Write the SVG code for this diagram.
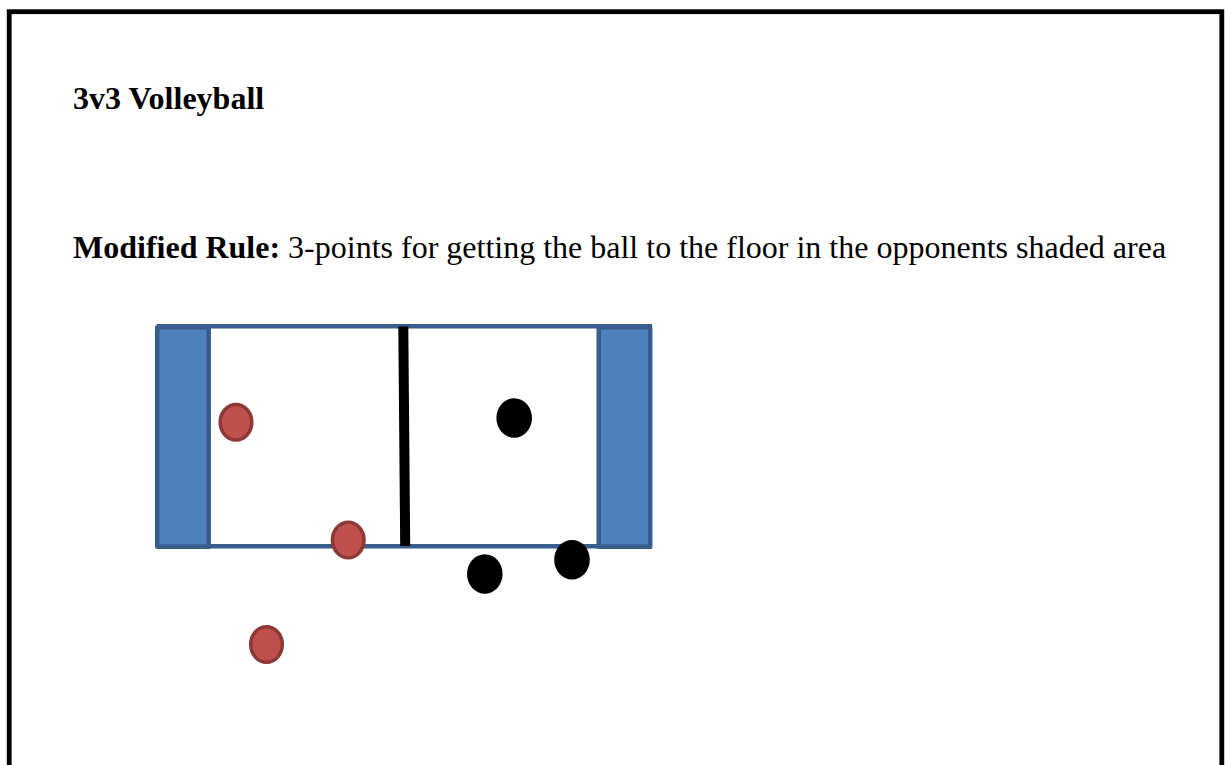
<svg xmlns="http://www.w3.org/2000/svg" width="1225" height="765" viewBox="0 0 1225 765">
<style>
.title{font-family:"Liberation Serif","Times New Roman",serif;font-size:32px;fill:#000}
.b{font-weight:bold}
.zone{fill:#4F81BD;stroke:#385D8A;stroke-width:4.5;stroke-linejoin:round}
.line{stroke:#385D8A;stroke-width:4.5;fill:none}
.red{fill:#C0504D;stroke:#8C3836;stroke-width:3.5}
.blk{fill:#000}
</style>
<rect x="0" y="0" width="1225" height="765" fill="#fff"/>
<rect x="9.2" y="11.7" width="1212.6" height="800" fill="none" stroke="#000" stroke-width="4.8"/>
<text class="title b" x="73" y="108.5">3v3 Volleyball</text>
<text class="title" x="73" y="257.5"><tspan class="b">Modified Rule:</tspan> 3-points for getting the ball to the floor in the opponents shaded area</text>
<g id="court">
<line class="line" x1="157" y1="326.2" x2="652" y2="326.2"/>
<line class="line" x1="157" y1="546.2" x2="652" y2="546.2"/>
</g>
<g id="zone-left"><rect class="zone" x="157.2" y="327.2" width="51.5" height="219.5"/></g>
<g id="zone-right"><rect class="zone" x="598.7" y="327.2" width="51.5" height="219.5"/></g>
<g id="net"><line x1="403.3" y1="326.5" x2="405.2" y2="546" stroke="#000" stroke-width="10"/></g>
<g id="red1"><ellipse class="red" cx="236" cy="422.3" rx="15.8" ry="17.8"/></g>
<g id="red2"><ellipse class="red" cx="348.2" cy="540" rx="15.8" ry="17.8"/></g>
<g id="red3"><ellipse class="red" cx="266.5" cy="644.5" rx="15.8" ry="17.8"/></g>
<g id="black1"><ellipse class="blk" cx="514.2" cy="418" rx="17.8" ry="19.7"/></g>
<g id="black2"><ellipse class="blk" cx="484.8" cy="574" rx="17.8" ry="19.7"/></g>
<g id="black3"><ellipse class="blk" cx="572" cy="559.7" rx="17.8" ry="19.7"/></g>
</svg>
